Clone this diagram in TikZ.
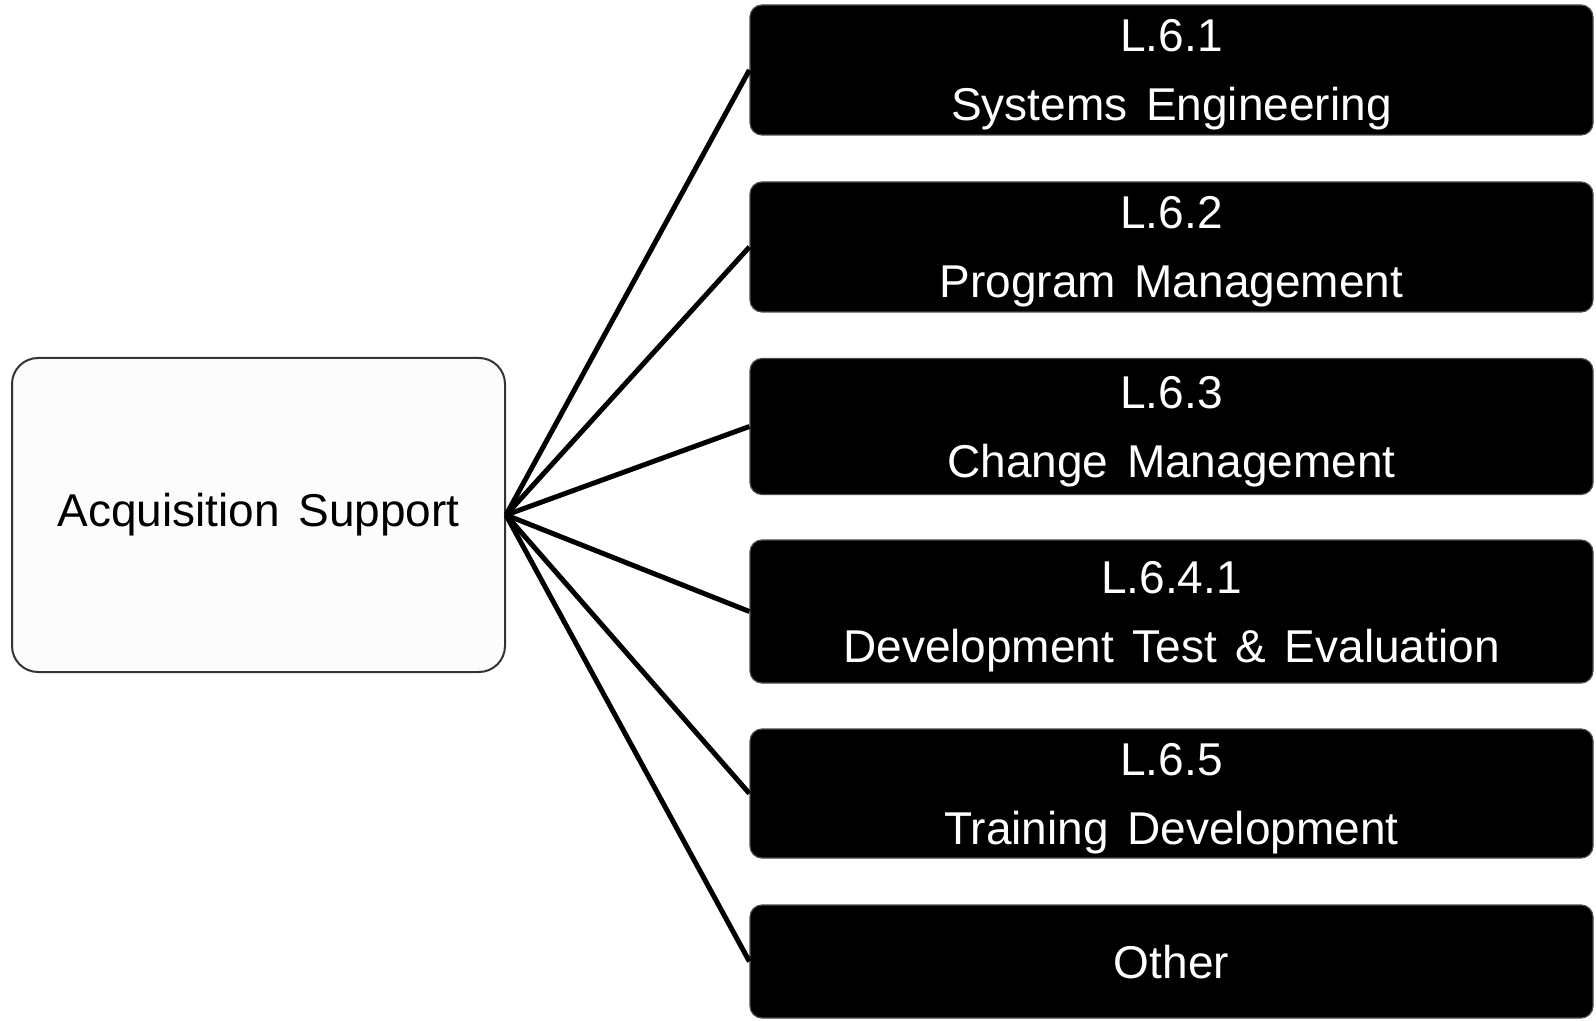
\documentclass[tikz,border=0pt]{standalone}
\usepackage{fontspec}
\setmainfont{Liberation Sans}[WordSpace=1.45]
\usepackage{tikz}

\begin{document}
\begin{tikzpicture}[x=0.5pt, y=-0.5pt,
  root/.style={fill=black!1, draw=black!80, line width=1pt, rounded corners=13pt,
    minimum width=246.5pt, minimum height=157pt, inner sep=0pt,
    font=\fontsize{23}{34.5}\selectfont},
  leaf/.style={fill=black, draw=black!70, line width=0.6pt, rounded corners=6pt,
    text=white, minimum width=421.5pt, inner sep=0pt, align=center, text depth=0pt,
    font=\fontsize{23}{34.5}\selectfont},
  link/.style={line width=2.5pt}]
\useasboundingbox (0,0) rectangle (1596,1021);
%%%%%%%%%%%%%%%%%%%%%%%%%%%%%%%
% boxes
%%%%%%%%%%%%%%%%%%%%%%%%%%%%%%%
\node [root] (acq) at (258.5, 515) {Acquisition Support};
%
\node [leaf, minimum height=65pt]   (sys)  at (1171.5, 70)    {L.6.1\\Systems Engineering};
\node [leaf, minimum height=65pt]   (prog) at (1171.5, 247)   {L.6.2\\Program Management};
\node [leaf, minimum height=68pt]   (chg)  at (1171.5, 426.5) {L.6.3\\Change Management};
\node [leaf, minimum height=71.5pt] (dte)  at (1171.5, 611.5) {L.6.4.1\\Development Test \& Evaluation};
\node [leaf, minimum height=64.5pt] (trn)  at (1171.5, 793.5) {L.6.5\\Training Development};
\node [leaf, minimum height=56.5pt] (oth)  at (1171.5, 961.5) {Other};
%
% links
\draw [link] (acq.east) -- (sys.west);
\draw [link] (acq.east) -- (prog.west);
\draw [link] (acq.east) -- (chg.west);
\draw [link] (acq.east) -- (dte.west);
\draw [link] (acq.east) -- (trn.west);
\draw [link] (acq.east) -- (oth.west);
%%%%%%%%%%%%%%%%%%%%%%%%%%%%%%%
\end{tikzpicture}
\end{document}
